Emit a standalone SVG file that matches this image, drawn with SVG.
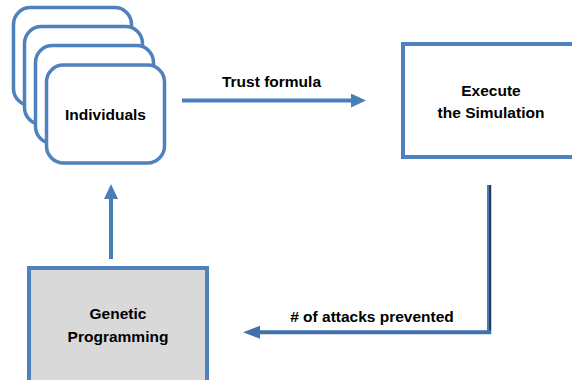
<svg xmlns="http://www.w3.org/2000/svg" width="572" height="380" viewBox="0 0 572 380">
<style>
.card{fill:#fff;stroke:#4f81bd;stroke-width:3.5}
.box{stroke:#4f81bd;stroke-width:4}
.lbl{font-family:"Liberation Sans",Arial,sans-serif;font-weight:bold;font-size:15.5px;fill:#000;text-anchor:middle}
.conn{fill:none;stroke:#4a7ebb;stroke-width:4}
</style>
<defs>
<marker id="ah" markerUnits="userSpaceOnUse" markerWidth="16" markerHeight="15" refX="8" refY="7" orient="auto">
<path d="M0,0 L15,7 L0,14 z" fill="#4a7ebb"/>
</marker>
<marker id="ah2" markerUnits="userSpaceOnUse" markerWidth="18" markerHeight="15" refX="8" refY="6.5" orient="auto">
<path d="M0,0 L17,6.5 L0,13 z" fill="#4071ab"/>
</marker>
</defs>
<rect width="572" height="380" fill="#fff"/>
<g id="individuals">
<rect class="card" x="13.5" y="7.5" width="118" height="98" rx="17"/>
<rect class="card" x="24.5" y="26.5" width="118" height="98" rx="17"/>
<rect class="card" x="35.5" y="45.5" width="118" height="98" rx="17"/>
<rect class="card" x="46.5" y="65" width="118" height="98" rx="17"/>
<text class="lbl" x="105.5" y="120">Individuals</text>
</g>
<g id="execute">
<rect class="box" x="403" y="44" width="180" height="113" fill="#fff"/>
<text class="lbl" x="491" y="96">Execute</text>
<text class="lbl" x="491" y="118">the Simulation</text>
</g>
<g id="genetic">
<rect class="box" x="29" y="268" width="178" height="130" fill="#d9d9d9"/>
<text class="lbl" x="118" y="319">Genetic</text>
<text class="lbl" x="118" y="341.5">Programming</text>
</g>
<g id="connectors">
<line class="conn" x1="182" y1="100.5" x2="359" y2="100.5" marker-end="url(#ah)"/>
<text class="lbl" x="271.5" y="87">Trust formula</text>
<line x1="489" y1="185" x2="489" y2="334" stroke="#4a7ebb" stroke-width="4"/>
<line x1="490.2" y1="185" x2="490.2" y2="334" stroke="#1f3552" stroke-width="2"/>
<line x1="491" y1="332.3" x2="252" y2="332.3" stroke="#4071ab" stroke-width="4" marker-end="url(#ah2)"/>
<text class="lbl" x="372" y="322">&#35; of attacks prevented</text>
<line class="conn" x1="111" y1="259" x2="111" y2="191" marker-end="url(#ah)"/>
</g>
</svg>
